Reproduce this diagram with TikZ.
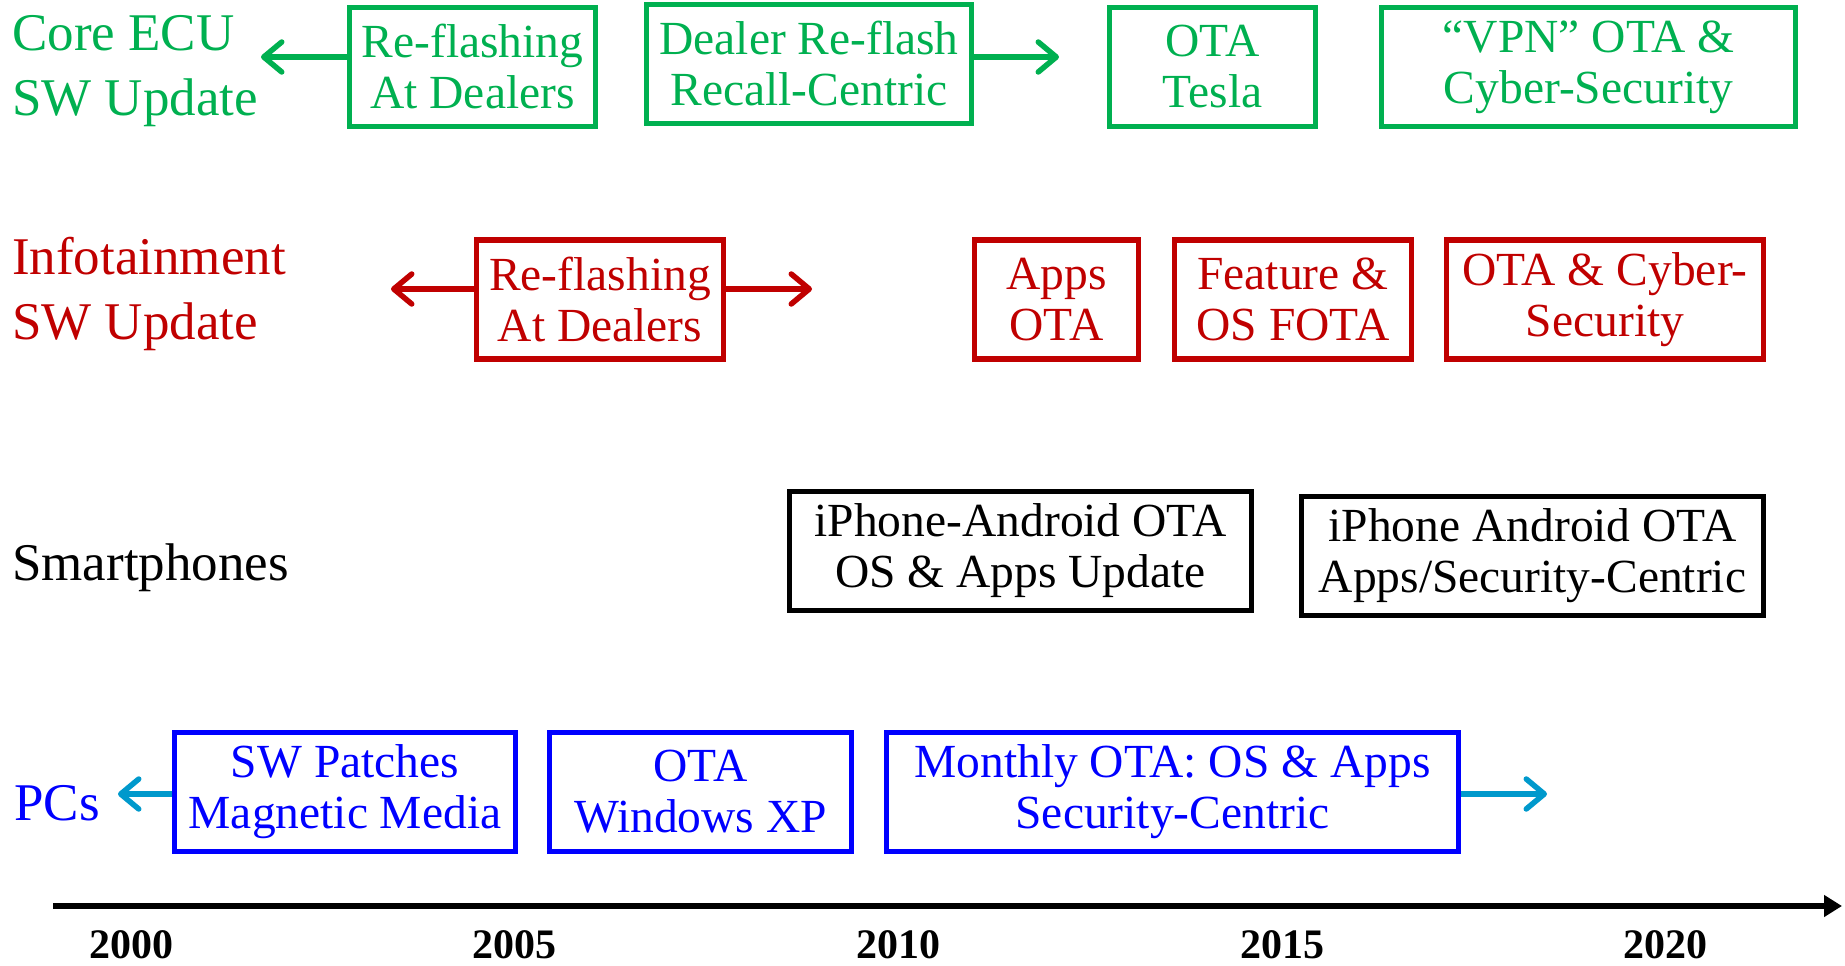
\documentclass[tikz,border=0pt]{standalone}
\usepackage{fontspec}
\setmainfont{Liberation Serif}
\usetikzlibrary{arrows.meta,calc}
\definecolor{EcuClr}{rgb}{0,0.6902,0.3137}
\definecolor{InfoClr}{rgb}{0.7529,0,0}
\definecolor{PcClr}{rgb}{0,0,1}
\definecolor{PcArrowClr}{rgb}{0,0.6,0.8}

\tikzset{
  tlbox/.style={draw,line width=5.5pt,inner sep=0pt,minimum height=119pt,align=center,
    font=\fontsize{47.5}{51}\selectfont},
  rowname/.style={anchor=west,inner sep=0pt,align=left,font=\fontsize{53}{65}\selectfont},
  tlarrow/.style={line width=5.5pt,-{Straight Barb[length=18pt,width=30pt,round]}},
}

\begin{document}
\begin{tikzpicture}[x=1pt,y=-1pt]
\useasboundingbox (0,0) rectangle (1845,966);

% Core ECU
\node[rowname,text=EcuClr] (ecu) at (12,71) {Core ECU\\SW Update};
\node[tlbox,EcuClr,minimum width=246pt] (ecuA) at (472.5,67) {Re-flashing\\At Dealers};
\node[tlbox,EcuClr,minimum width=325pt] (ecuB) at (809,64) {Dealer Re-flash\\Recall-Centric};
\node[tlbox,EcuClr,minimum width=206pt] (ecuC) at (1212.5,67) {OTA\\Tesla};
\node[tlbox,EcuClr,minimum width=414pt] (ecuD) at (1588.5,67) {“VPN” OTA \&\\Cyber-Security};
\coordinate (ecuL) at (261,57);
\coordinate (ecuR) at (1059,57);
\draw[tlarrow,EcuClr] (ecuA.west |- ecuL) -- (ecuL);
\draw[tlarrow,EcuClr] (ecuB.east |- ecuR) -- (ecuR);

% Infotainment
\node[rowname,text=InfoClr] (info) at (12,294) {Infotainment\\SW Update};
\node[tlbox,InfoClr,minimum width=247pt] (infoA) at (600,299.5) {Re-flashing\\At Dealers};
\node[tlbox,InfoClr,minimum width=164pt] (infoB) at (1056.5,299.5) {Apps\\OTA};
\node[tlbox,InfoClr,minimum width=237pt] (infoC) at (1293,299.5) {Feature \&\\OS FOTA};
\node[tlbox,InfoClr,minimum width=317pt] (infoD) at (1605,299.5) {OTA \& Cyber-\\Security};
\coordinate (infoL) at (391,289);
\coordinate (infoR) at (812,289);
\draw[tlarrow,InfoClr] (infoA.west |- infoL) -- (infoL);
\draw[tlarrow,InfoClr] (infoA.east |- infoR) -- (infoR);

% Smartphones
\node[rowname] (phone) at (12,568) {Smartphones};
\node[tlbox,minimum width=462pt] (phoneA) at (1020.5,551) {iPhone-Android OTA\\OS \& Apps Update};
\node[tlbox,minimum width=462pt] (phoneB) at (1532.5,556) {iPhone Android OTA\\Apps/Security-Centric};

% PCs
\node[rowname,text=PcClr] (pc) at (14,803) {PCs};
\node[tlbox,PcClr,minimum width=341pt] (pcA) at (345,792) {SW Patches\\Magnetic Media};
\node[tlbox,PcClr,minimum width=302pt] (pcB) at (700.5,792) {OTA\\Windows XP};
\node[tlbox,PcClr,minimum width=572pt] (pcC) at (1172.5,792) {Monthly OTA: OS \& Apps\\Security-Centric};
\coordinate (pcL) at (118,794);
\coordinate (pcR) at (1547,794);
\draw[tlarrow,PcArrowClr] (pcA.west |- pcL) -- (pcL);
\draw[tlarrow,PcArrowClr] (pcC.east |- pcR) -- (pcR);

% time axis
\coordinate (t0) at (53,906);
\coordinate (t1) at (1842,906);
\draw[line width=6pt,-{Triangle[length=18pt,width=21pt]}] (t0) -- (t1);
\foreach \yr [count=\i from 0] in {2000,2005,2010,2015,2020}
  \node[inner sep=0pt,font=\fontsize{42}{48}\selectfont\bfseries] (yr\yr) at ({131+383.7*\i},945) {\yr};
\end{tikzpicture}
\end{document}
